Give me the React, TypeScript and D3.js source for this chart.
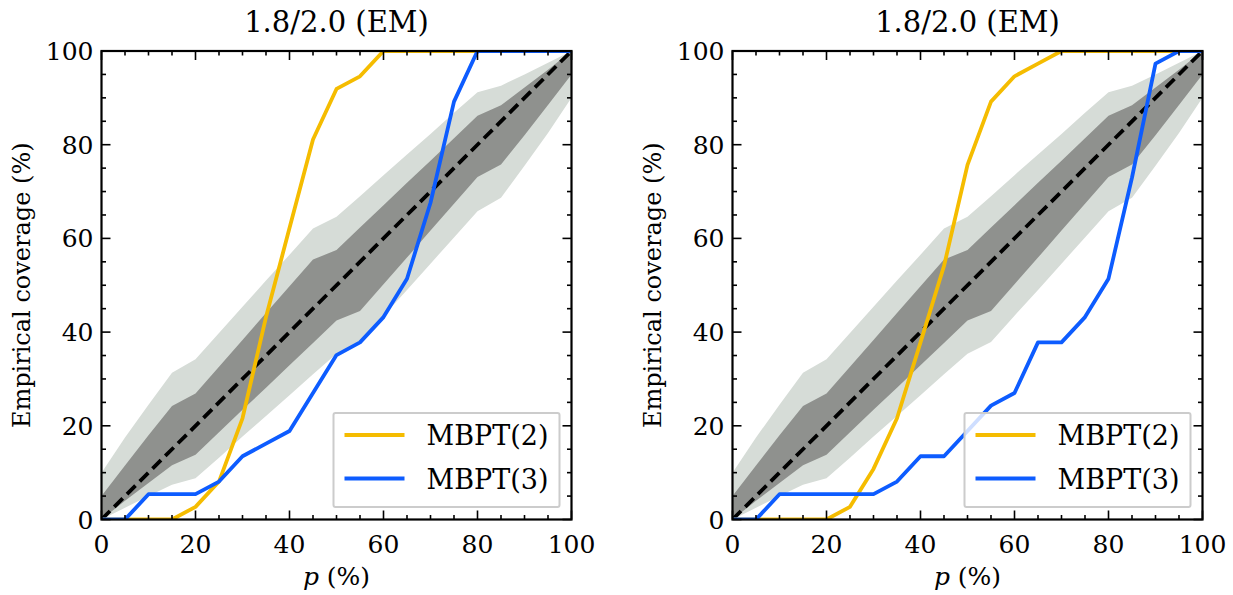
import React from "react";
import * as d3 from "d3";

// ---------- data ----------
const pValues = [0, 5, 10, 15, 20, 25, 30, 35, 40, 45, 50, 55, 60, 65, 70, 75, 80, 85, 90, 95, 100];

const lightUpper = [10, 17.5, 24.5, 31.3, 34.2, 39.8, 45.4, 51, 56.5, 62.1, 64.6, 69, 73.5, 77.9, 82.3, 86.8, 91.2, 92.6, 95, 97.5, 100];
const lightLower = [0, 2.5, 5, 7.4, 8.8, 13.2, 17.7, 22.1, 26.5, 31, 35.4, 37.9, 43.5, 49, 54.6, 60.2, 65.8, 68.7, 75.5, 82.5, 90];
const darkUpper = [5, 11.5, 18, 24.2, 26.9, 32.6, 38.3, 44.1, 49.8, 55.5, 57.5, 62.3, 67.1, 71.9, 76.6, 81.4, 86.2, 88.4, 92.2, 96, 100];
const darkLower = [0, 4, 7.8, 11.6, 13.8, 18.6, 23.4, 28.1, 32.9, 37.7, 42.5, 44.5, 50.2, 55.9, 61.7, 67.4, 73.1, 75.8, 82, 88.5, 95];

const leftMBPT2 = [0, 0, 0, 0, 2.7, 8.1, 21.6, 43.2, 62.2, 81.1, 91.9, 94.6, 100, 100, 100, 100, 100, 100, 100, 100, 100];
const leftMBPT3 = [0, 0, 5.4, 5.4, 5.4, 8.1, 13.5, 16.2, 18.9, 27.0, 35.1, 37.8, 43.2, 51.4, 67.6, 89.2, 100, 100, 100, 100, 100];
const rightMBPT2 = [0, 0, 0, 0, 0, 2.7, 10.8, 21.6, 37.8, 54.1, 75.7, 89.2, 94.6, 97.3, 100, 100, 100, 100, 100, 100, 100];
const rightMBPT3 = [0, 0, 5.4, 5.4, 5.4, 5.4, 5.4, 8.1, 13.5, 13.5, 18.9, 24.3, 27.0, 37.8, 37.8, 43.2, 51.4, 73.0, 97.3, 100, 100];

const majorTicks = [0, 20, 40, 60, 80, 100];
const minorTicks = [5, 10, 15, 25, 30, 35, 45, 50, 55, 65, 70, 75, 85, 90, 95];
const diagonal = [0, 100];

const panelTitle = "1.8/2.0 (EM)";
const yLabel = "Empirical coverage (%)";
const seriesNames = ["MBPT(2)", "MBPT(3)"];
const seriesColors = ["#f5bc00", "#0d5cff"];

// ---------- styles ----------
const FONT = '"DejaVu Serif", "Liberation Serif", serif';
const LIGHT = "#d6dcd7";
const DARK = "#8f918e";

type PanelProps = {
  x0: number;
  mbpt2: number[];
  mbpt3: number[];
};

const W = 470;
const TOP = 51;
const BOTTOM = 519.5;

function Panel({ x0, mbpt2, mbpt3 }: PanelProps) {
  const x = d3.scaleLinear().domain([0, 100]).range([x0, x0 + W]);
  const y = d3.scaleLinear().domain([0, 100]).range([BOTTOM, TOP]);

  const band = (lo: number[], hi: number[]) =>
    d3
      .area<number>()
      .x((_, i) => x(pValues[i]))
      .y0((_, i) => y(lo[i]))
      .y1((_, i) => y(hi[i]))(pValues) as string;

  const line = (vals: number[]) =>
    d3
      .line<number>()
      .x((_, i) => x(pValues[i]))
      .y((d) => y(d))(vals) as string;

  const diag = d3
    .line<number>()
    .x((d) => x(d))
    .y((d) => y(d))(diagonal) as string;

  const clipId = `clip-${x0}`;
  const legW = 226;
  const legH = 94;
  const legX = x0 + W - 12 - legW;
  const legY = BOTTOM - 12.5 - legH;

  const tickEls: React.ReactNode[] = [];
  const addTicks = (vals: number[], len: number, key: string) => {
    vals.forEach((v) => {
      const xv = x(v);
      const yv = y(v);
      tickEls.push(
        <line key={`${key}b${v}`} x1={xv} x2={xv} y1={BOTTOM} y2={BOTTOM - len} />,
        <line key={`${key}t${v}`} x1={xv} x2={xv} y1={TOP} y2={TOP + len} />,
        <line key={`${key}l${v}`} x1={x0} x2={x0 + len} y1={yv} y2={yv} />,
        <line key={`${key}r${v}`} x1={x0 + W} x2={x0 + W - len} y1={yv} y2={yv} />
      );
    });
  };
  addTicks(majorTicks, 9, "M");
  addTicks(minorTicks, 4.5, "m");

  return (
    <g fontFamily={FONT}>
      <defs>
        <clipPath id={clipId}>
          <rect x={x0} y={TOP} width={W} height={BOTTOM - TOP} />
        </clipPath>
      </defs>
      <g clipPath={`url(#${clipId})`}>
        <path d={band(lightLower, lightUpper)} fill={LIGHT} />
        <path d={band(darkLower, darkUpper)} fill={DARK} />
        <path d={diag} stroke="#000" strokeWidth={3.8} strokeDasharray="12,6" fill="none" />
        <path d={line(mbpt2)} stroke={seriesColors[0]} strokeWidth={3.8} fill="none" strokeLinejoin="round" />
        <path d={line(mbpt3)} stroke={seriesColors[1]} strokeWidth={3.8} fill="none" strokeLinejoin="round" />
      </g>
      {/* legend */}
      <rect x={legX} y={legY} width={legW} height={legH} rx={2} fill="#fff" fillOpacity={0.8} stroke="#cccccc" strokeWidth={2} />
      {seriesNames.map((name, i) => {
        const ry = legY + 22 + i * 43.5;
        return (
          <g key={name}>
            <line x1={legX + 11} x2={legX + 71} y1={ry} y2={ry} stroke={seriesColors[i]} strokeWidth={3.8} />
            <text x={legX + 93} y={ry + 10} fontSize={27} fill="#000">
              {name}
            </text>
          </g>
        );
      })}
      {/* frame */}
      <g stroke="#000" strokeWidth={1.6}>{tickEls}</g>
      <rect x={x0} y={TOP} width={W} height={BOTTOM - TOP} fill="none" stroke="#000" strokeWidth={2.2} />
      {/* tick labels */}
      {majorTicks.map((v) => (
        <text key={`xl${v}`} x={x(v)} y={BOTTOM + 33} textAnchor="middle" fontSize={25}>
          {v}
        </text>
      ))}
      {majorTicks.map((v) => (
        <text key={`yl${v}`} x={x0 - 8} y={y(v) + 9} textAnchor="end" fontSize={25}>
          {v}
        </text>
      ))}
      {/* title */}
      <text x={x0 + W / 2} y={32} textAnchor="middle" fontSize={29}>
        {panelTitle}
      </text>
      {/* x label */}
      <text x={x0 + W / 2} y={585} textAnchor="middle" fontSize={25}>
        <tspan fontStyle="italic">p</tspan> (%)
      </text>
      {/* y label */}
      <text
        transform={`translate(${x0 - 71.5},${(TOP + BOTTOM) / 2}) rotate(-90)`}
        textAnchor="middle"
        fontSize={24}
      >
        {yLabel}
      </text>
    </g>
  );
}

export default function App() {
  return (
    <svg
      width={1233}
      height={595}
      style={{ position: "fixed", left: 0, top: 0, background: "#fff" }}
    >
      <rect x={0} y={0} width={1233} height={595} fill="#fff" />
      <Panel x0={101.5} mbpt2={leftMBPT2} mbpt3={leftMBPT3} />
      <Panel x0={732.5} mbpt2={rightMBPT2} mbpt3={rightMBPT3} />
    </svg>
  );
}
